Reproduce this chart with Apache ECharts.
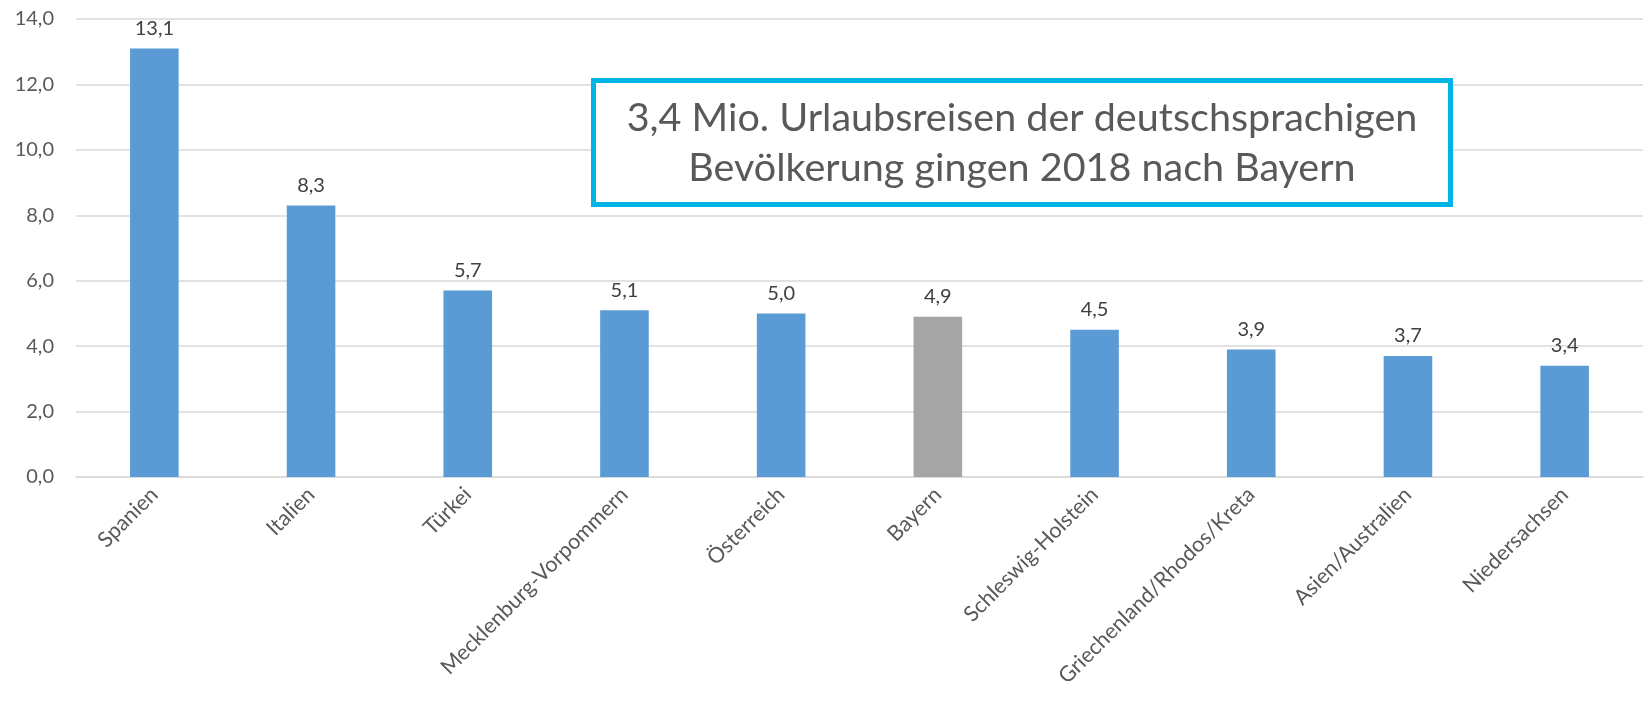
<!DOCTYPE html>
<html>
<head>
<meta charset="utf-8">
<script src="https://cdn.jsdelivr.net/npm/echarts@6/dist/echarts.min.js"></script>
<style>
  html, body { margin: 0; padding: 0; background: #fff; }
  #chart { width: 1645px; height: 701px; }
</style>
</head>
<body>
<div id="chart"></div>
<script>
// Reiseziele und Anzahl Urlaubsreisen (Mio.)
const categories = ["Spanien", "Italien", "Türkei", "Mecklenburg-Vorpommern", "Österreich",
  "Bayern", "Schleswig-Holstein", "Griechenland/Rhodos/Kreta", "Asien/Australien", "Niedersachsen"];
const values = [13.1, 8.3, 5.7, 5.1, 5.0, 4.9, 4.5, 3.9, 3.7, 3.4];
const highlight = "Bayern";
const boxText = "3,4 Mio. Urlaubsreisen der deutschsprachigen\nBevölkerung gingen 2018 nach Bayern";

const fmt = (v) => v.toFixed(1).replace(".", ",");
const font = "Lato, 'Open Sans', sans-serif";

const chart = echarts.init(document.getElementById("chart"));
chart.setOption({
  animation: false,
  grid: { left: 76, right: 2, top: 19, bottom: 224 },
  xAxis: {
    type: "category",
    data: categories,
    axisLine: { lineStyle: { color: "#d9d9d9", width: 1.5 } },
    axisTick: { show: false },
    axisLabel: {
      rotate: 45,
      interval: 0,
      margin: 14,
      fontFamily: font,
      fontSize: 21.5,
      color: "#595959",
    },
  },
  yAxis: {
    type: "value",
    min: 0,
    max: 14,
    interval: 2,
    axisLabel: {
      formatter: (v) => fmt(v),
      fontFamily: font,
      fontSize: 20,
      color: "#595959",
      margin: 22,
    },
    splitLine: { lineStyle: { color: "#d9d9d9", width: 1.5 } },
  },
  series: [
    {
      type: "bar",
      barWidth: "31%",
      data: values.map((v, i) => ({
        value: v,
        itemStyle: { color: categories[i] === highlight ? "#a5a5a5" : "#5b9bd5" },
      })),
      label: {
        show: true,
        position: "top",
        distance: 10,
        formatter: (p) => fmt(p.value),
        fontFamily: font,
        fontSize: 20,
        color: "#404040",
      },
    },
  ],
  graphic: [
    {
      type: "rect",
      shape: { x: 593.5, y: 80.5, width: 857, height: 124 },
      style: { fill: "#fff", stroke: "#00b4e6", lineWidth: 5 },
      z: 10,
    },
    {
      type: "text",
      x: 1022,
      y: 143,
      z: 11,
      style: {
        text: boxText,
        align: "center",
        verticalAlign: "middle",
        fontFamily: font,
        fontSize: 39.5,
        lineHeight: 50,
        fill: "#595959",
      },
    },
  ],
});
</script>
</body>
</html>
